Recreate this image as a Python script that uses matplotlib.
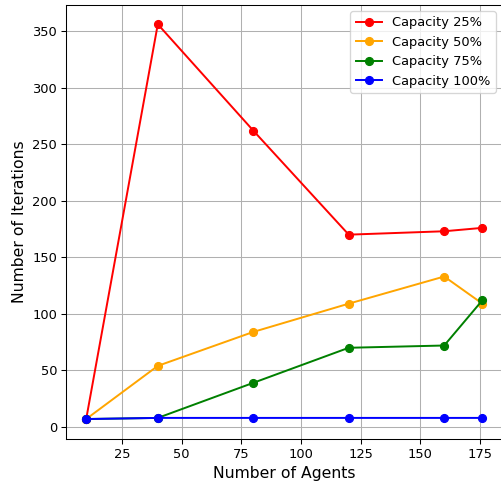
import matplotlib
matplotlib.use("Agg")
import matplotlib.pyplot as plt

agents = [10, 40, 80, 120, 160, 176]
cap_25 = [7, 356, 262, 170, 173, 176]
cap_50 = [7, 54, 84, 109, 133, 109]
cap_75 = [7, 8, 39, 70, 72, 112]
cap_100 = [7, 8, 8, 8, 8, 8]

# reference looks like a slightly downscaled default render
fig, ax = plt.subplots(figsize=(501 / 94, 485 / 94), dpi=94)
fig.subplots_adjust(left=0.1325, right=1.0024, top=0.9907, bottom=0.0953)

ax.plot(agents, cap_25, marker='o', color='red', label='Capacity 25%')
ax.plot(agents, cap_50, marker='o', color='orange', label='Capacity 50%')
ax.plot(agents, cap_75, marker='o', color='green', label='Capacity 75%')
ax.plot(agents, cap_100, marker='o', color='blue', label='Capacity 100%')

ax.set_xlabel("Number of Agents", fontsize=12)
ax.set_ylabel("Number of Iterations", fontsize=12)
ax.grid(True)
ax.legend(loc='upper right')

plt.savefig('out.png', dpi=94)
